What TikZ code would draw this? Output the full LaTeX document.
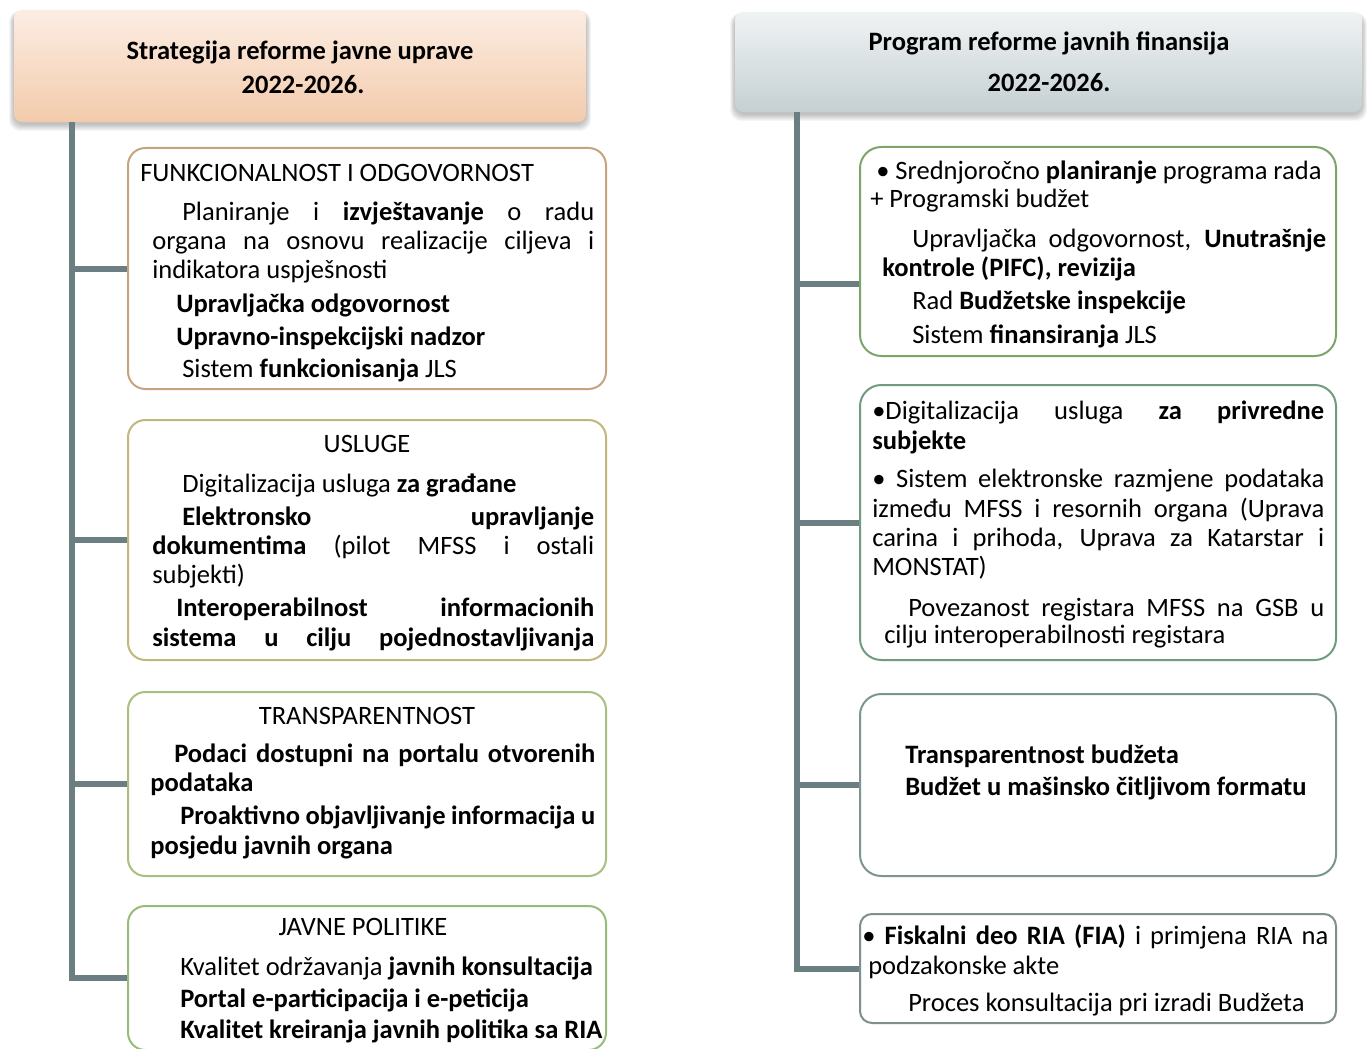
\documentclass[tikz,border=0pt]{standalone}
\usepackage{fontspec}
\setmainfont{Carlito}
\usetikzlibrary{fit,calc}

\definecolor{trunkc}{HTML}{6B7F82}
\definecolor{bL1}{HTML}{C6A47F}
\definecolor{bL2}{HTML}{C1B77C}
\definecolor{bL3}{HTML}{A8BF80}
\definecolor{bL4}{HTML}{97BB78}
\definecolor{bR1}{HTML}{7DA56A}
\definecolor{bR2}{HTML}{719B80}
\definecolor{bR3}{HTML}{7C9590}
\definecolor{bR4}{HTML}{7F8E8F}
\definecolor{peachT}{HTML}{FCEDE3}
\definecolor{peachB}{HTML}{F3CBAC}
\definecolor{greyT}{HTML}{F0F3F4}
\definecolor{greyB}{HTML}{C5D0D3}

% one unit = one pixel of the layout grid (0.75pt)
\newcommand\txtL[4]{\node[ln] (#1) at (#2,#3) {#4};}
\newcommand\txtJ[5]{\node[ln] (#1) at (#2,#3) {\makebox[\dimexpr 0.75pt*#4\relax][s]{#5}};}
\newcommand\txtC[4]{\node[cln] (#1) at (#2,#3) {#4};}
% soft shadow behind a header: left, top, right, bottom
\newcommand\softshadow[4]{%
  \foreach \d in {1,...,7}{
    \fill[black,opacity=0.035,rounded corners=8pt]
      ({#1-0.7*\d},{#2+3-0.3*\d}) rectangle ({#3+0.7*\d},{#4+2+\d});}}

\begin{document}
\begin{tikzpicture}[x=0.75pt,y=-0.75pt,
  every node/.style={font=\fontsize{19.9}{24}\selectfont},
  ln/.style={anchor=mid west,inner sep=0pt,yshift=-4.5pt},
  cln/.style={anchor=mid,inner sep=0pt,yshift=-4.5pt},
  box/.style={inner sep=0pt,line width=1.5pt,rounded corners=13pt,fill=white},
  head/.style={inner sep=0pt,rounded corners=6pt},
  trunk/.style={draw=trunkc,line width=4.5pt}]
\clip (0,0) rectangle (1372,1049);
\fill[white] (0,0) rectangle (1372,1049);

% headers
\softshadow{14}{10}{586}{122}
\softshadow{735}{12}{1362}{112}
\node[head,top color=peachT,bottom color=peachB,fit={(14,10) (586,122)}] (LH) {};
\node[head,top color=greyT,bottom color=greyB,fit={(735,12) (1362,112)}] (RH) {};
\txtC{lh1}{300}{50}{\textbf{Strategija reforme javne uprave}}
\txtC{lh2}{303}{84}{\textbf{2022-2026.}}
\txtC{rh1}{1049}{41}{\textbf{Program reforme javnih finansija}}
\txtC{rh2}{1049}{82}{\textbf{2022-2026.}}

% left column boxes
\node[box,draw=bL1,fit={(128,148) (606,389)}] (L1) {};
\node[box,draw=bL2,fit={(128,420) (606,660)}] (L2) {};
\node[box,draw=bL3,fit={(128,692) (606,876)}] (L3) {};
\node[box,draw=bL4,fit={(128,906) (606,1050)}] (L4) {};

% right column boxes
\node[box,draw=bR1,rounded corners=16pt,fit={(860,147) (1336,356)}] (R1) {};
\node[box,draw=bR2,rounded corners=16pt,fit={(860,385) (1336,660)}] (R2) {};
\node[box,draw=bR3,rounded corners=16pt,fit={(860,694) (1336,876)}] (R3) {};
\node[box,draw=bR4,rounded corners=9pt,fit={(860,914) (1336,1023)}] (R4) {};

% connectors
\coordinate (lt) at ([xshift=43.5pt]LH.south west);
\coordinate (rt) at ([xshift=46.5pt]RH.south west);
\draw[trunk] (lt) |- (L4.west);
\draw[trunk] (L1.west -| lt) -- (L1.west);
\draw[trunk] (L2.west -| lt) -- (L2.west);
\draw[trunk] (L3.west -| lt) -- (L3.west);
\coordinate (r1b) at ($(R1.north west)!0.655!(R1.south west)$);
\draw[trunk] (rt) |- (R4.west);
\draw[trunk] (r1b -| rt) -- (r1b);
\draw[trunk] (R2.west -| rt) -- (R2.west);
\draw[trunk] (R3.west -| rt) -- (R3.west);

% left box 1
\txtL{a1}{140}{172}{FUNKCIONALNOST I ODGOVORNOST}
\txtJ{a2}{182}{211}{412}{Planiranje i \textbf{izvještavanje} o radu}
\txtJ{a3}{152}{240}{442}{organa na osnovu realizacije ciljeva i}
\txtL{a4}{152}{269}{indikatora uspješnosti}
\txtL{a5}{176}{303}{\textbf{Upravljačka odgovornost}}
\txtL{a6}{176}{336}{\textbf{Upravno-inspekcijski nadzor}}
\txtL{a7}{182}{368}{Sistem \textbf{funkcionisanja} JLS}

% left box 2
\txtC{b1}{367}{443}{USLUGE}
\txtL{b2}{182}{483}{Digitalizacija usluga \textbf{za građane}}
\txtJ{b3}{182}{516}{412}{\textbf{Elektronsko upravljanje}}
\txtJ{b4}{152}{545}{442}{\textbf{dokumentima} (pilot MFSS i ostali}
\txtL{b5}{152}{574}{subjekti)}
\txtJ{b6}{176}{607}{418}{\textbf{Interoperabilnost informacionih}}
\txtJ{b7}{152}{637}{442}{\textbf{sistema u cilju pojednostavljivanja}}

% left box 3
\txtC{c1}{367}{715}{TRANSPARENTNOST}
\txtJ{c2}{174}{753}{421}{\textbf{Podaci dostupni na portalu otvorenih}}
\txtL{c3}{150}{782}{\textbf{podataka}}
\txtJ{c4}{180}{815}{415}{\textbf{Proaktivno objavljivanje informacija u}}
\txtL{c5}{150}{845}{\textbf{posjedu javnih organa}}

% left box 4
\txtC{d1}{363}{926}{JAVNE POLITIKE}
\txtL{d2}{180}{966}{Kvalitet održavanja \textbf{javnih konsultacija}}
\txtL{d3}{180}{998}{\textbf{Portal e-participacija i e-peticija}}
\txtL{d4}{180}{1029}{\textbf{Kvalitet kreiranja javnih politika sa RIA}}

% right box 1
\txtL{e1}{876}{170}{• Srednjoročno \textbf{planiranje} programa rada}
\txtL{e2}{870}{198}{+ Programski budžet}
\txtJ{e3}{912}{238}{414}{Upravljačka odgovornost, \textbf{Unutrašnje}}
\txtL{e4}{882}{267}{\textbf{kontrole (PIFC), revizija}}
\txtL{e5}{912}{300}{Rad \textbf{Budžetske inspekcije}}
\txtL{e6}{912}{334}{Sistem \textbf{finansiranja} JLS}

% right box 2
\txtJ{f1}{872}{410}{452}{•Digitalizacija usluga \textbf{za privredne}}
\txtL{f2}{872}{440}{\textbf{subjekte}}
\txtJ{f3}{872}{478}{452}{• Sistem elektronske razmjene podataka}
\txtJ{f4}{872}{508}{452}{između MFSS i resornih organa (Uprava}
\txtJ{f5}{872}{537}{452}{carina i prihoda, Uprava za Katarstar i}
\txtL{f6}{872}{566}{MONSTAT)}
\txtJ{f7}{908}{607}{416}{Povezanost registara MFSS na GSB u}
\txtL{f8}{884}{634}{cilju interoperabilnosti registara}

% right box 3
\txtL{g1}{905}{754}{\textbf{Transparentnost budžeta}}
\txtL{g2}{905}{786}{\textbf{Budžet u mašinsko čitljivom formatu}}

% right box 4
\txtJ{h1}{862}{935}{466}{• \textbf{Fiskalni deo RIA (FIA)} i primjena RIA na}
\txtL{h2}{868}{965}{podzakonske akte}
\txtL{h3}{908}{1002}{Proces konsultacija pri izradi Budžeta}
\end{tikzpicture}
\end{document}
